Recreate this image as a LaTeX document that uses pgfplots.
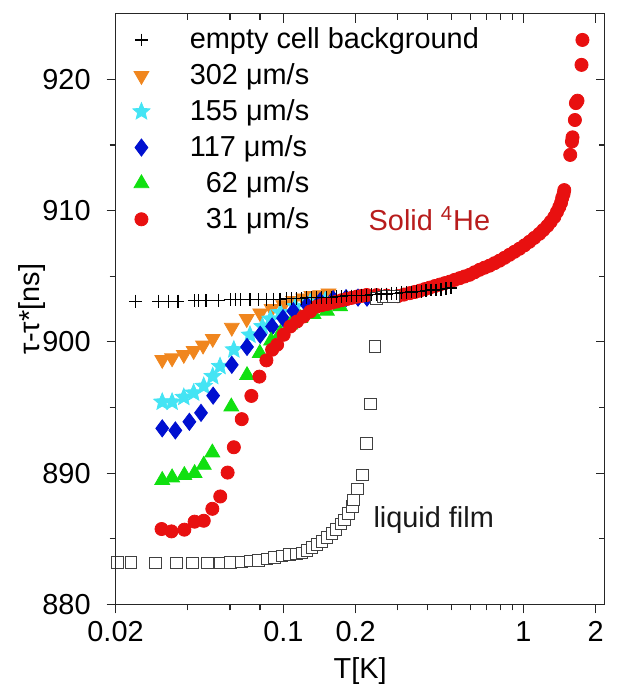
\documentclass[border=0pt]{standalone}
\usepackage{fontspec}
\setmainfont{Liberation Sans}
\usepackage{pgfplots}
\pgfplotsset{compat=1.18}
\usetikzlibrary{plotmarks}

\definecolor{cOrange}{HTML}{F0861E}
\definecolor{cCyan}{HTML}{44E4F4}
\definecolor{cBlue}{HTML}{0010D0}
\definecolor{cGreen}{HTML}{10E010}
\definecolor{cRed}{HTML}{E81010}
\definecolor{cText}{HTML}{B81C1C}

% filled five-pointed star
\pgfdeclareplotmark{fstar}{%
  \pgfpathmoveto{\pgfpointpolar{90}{\pgfplotmarksize}}%
  \pgfpathlineto{\pgfpointpolar{126}{0.45\pgfplotmarksize}}%
  \pgfpathlineto{\pgfpointpolar{162}{\pgfplotmarksize}}%
  \pgfpathlineto{\pgfpointpolar{198}{0.45\pgfplotmarksize}}%
  \pgfpathlineto{\pgfpointpolar{234}{\pgfplotmarksize}}%
  \pgfpathlineto{\pgfpointpolar{270}{0.45\pgfplotmarksize}}%
  \pgfpathlineto{\pgfpointpolar{306}{\pgfplotmarksize}}%
  \pgfpathlineto{\pgfpointpolar{342}{0.45\pgfplotmarksize}}%
  \pgfpathlineto{\pgfpointpolar{18}{\pgfplotmarksize}}%
  \pgfpathlineto{\pgfpointpolar{54}{0.45\pgfplotmarksize}}%
  \pgfpathclose
  \pgfusepathqfillstroke}

\pgfplotstableread{
T y
0.0242 903.1
0.0303 903.1
0.0333 903.1
0.0364 903.1
0.0427 903.15
0.0444 903.15
0.0476 903.15
0.0537 903.15
0.0601 903.2
0.0630 903.2
0.0661 903.2
0.0727 903.2
0.0787 903.2
0.0852 903.25
0.0909 903.25
0.0969 903.25
0.1032 903.3
0.1082 903.3
0.1135 903.3
0.1191 903.3
0.1249 903.35
0.1310 903.35
0.1374 903.35
0.1441 903.4
0.1512 903.4
0.1586 903.4
0.1663 903.45
0.1745 903.45
0.1830 903.5
0.1920 903.5
0.2014 903.5
0.2112 903.55
0.2216 903.55
0.2324 903.6
0.2438 903.6
0.2557 903.65
0.2683 903.65
0.2814 903.7
0.2952 903.7
0.3096 903.75
0.3248 903.75
0.3407 903.8
0.3574 903.85
0.3749 903.85
0.3932 903.9
0.4125 903.95
0.4327 903.95
0.4539 904.0
0.4761 904.05
0.4994 904.1
}\vEmptyCell

\pgfplotstableread{
T y
0.0313 898.64
0.0344 898.76
0.0385 899.02
0.0423 899.32
0.0463 899.73
0.0508 900.24
0.0610 901.09
0.0704 901.75
0.0801 902.18
0.0894 902.51
0.1000 902.81
0.1100 903.12
0.1211 903.32
0.1310 903.50
0.1424 903.57
0.1542 903.70
}\vOrange

\pgfplotstableread{
T y
0.0313 895.42
0.0344 895.42
0.0385 895.78
0.0423 896.11
0.0466 896.62
0.0508 897.37
0.0545 898.13
0.0622 899.40
0.0726 900.52
0.0818 901.17
0.0883 901.74
0.0972 902.23
0.1121 902.69
0.1294 902.99
0.1494 903.14
}\vCyan

\pgfplotstableread{
T y
0.0313 893.41
0.0355 893.25
0.0406 893.91
0.0454 894.59
0.0510 895.90
0.0610 898.25
0.0706 899.61
0.0801 900.54
0.0898 901.17
0.0997 901.80
0.1100 902.34
0.1254 902.81
0.1424 903.10
0.1612 903.25
0.1825 903.33
0.2047 903.37
0.2231 903.37
}\vBlue

\pgfplotstableread{
T y
0.0313 889.46
0.0344 889.66
0.0387 889.84
0.0427 889.99
0.0466 890.62
0.0506 891.56
0.0607 895.06
0.0706 897.45
0.0798 899.14
0.0889 900.08
0.0972 900.66
0.1069 901.30
0.1176 901.80
0.1336 902.10
0.1518 902.36
0.1724 902.69
}\vGreen

\pgfplotstableread{
T y
0.0311 885.74
0.0342 885.56
0.0387 885.69
0.0427 886.30
0.0466 886.37
0.0506 887.28
0.0546 888.22
0.0586 890.04
0.0622 891.97
0.0671 894.11
0.0736 895.88
0.0795 897.35
0.0850 898.59
0.0898 899.40
0.0942 899.78
0.1003 900.54
0.1069 901.17
0.1140 901.55
0.1214 901.93
0.1294 902.31
0.1379 902.69
0.1448 902.80
0.1518 902.88
0.1592 902.98
0.1670 903.07
0.1750 903.17
0.1837 903.26
0.1925 903.35
0.2021 903.44
0.2120 903.50
0.2225 903.57
0.2447 903.56
0.2694 903.52
0.3000 903.48
0.3180 903.60
0.3365 903.71
0.3530 903.80
0.3703 903.90
0.3885 904.02
0.4074 904.13
0.4275 904.25
0.4482 904.36
0.4700 904.47
0.4932 904.58
0.5170 904.72
0.5426 904.85
0.5690 904.98
0.5970 905.11
0.6260 905.30
0.6569 905.49
0.6890 905.65
0.7227 905.80
0.7580 905.99
0.7951 906.18
0.8340 906.40
0.8748 906.63
0.9175 906.86
0.9625 907.09
1.010 907.35
1.059 907.62
1.110 907.92
1.165 908.23
1.210 908.52
1.258 908.83
1.300 909.15
1.345 909.51
1.380 909.90
1.411 910.27
1.435 910.60
1.451 910.96
1.470 911.26
1.480 911.56
1.567 914.24
1.593 915.26
1.602 915.58
1.639 916.90
1.655 918.19
1.680 918.37
1.746 921.10
1.762 923.00
}\vRed

\pgfplotstableread{
T y
0.0204 883.20
0.0232 883.20
0.0294 883.15
0.0359 883.15
0.0418 883.15
0.0482 883.15
0.0548 883.15
0.0603 883.21
0.0670 883.24
0.0730 883.29
0.0790 883.34
0.0856 883.44
0.0920 883.59
0.0988 883.70
0.1062 883.79
0.1132 883.85
0.1196 883.92
0.1254 884.10
0.1315 884.35
0.1379 884.55
0.1447 884.78
0.1518 885.11
0.1592 885.41
0.1660 885.71
0.1735 886.12
0.1796 886.43
0.1866 886.93
0.1940 887.44
0.1957 887.94
0.2042 888.78
0.2142 889.84
0.2225 892.27
0.2311 895.27
0.2408 899.65
0.2447 903.32
0.2607 903.40
0.2694 903.44
0.2869 903.44
}\vFilm

\newcommand{\fs}{\fontsize{14.5}{17}\selectfont}

\begin{document}
\begin{tikzpicture}
\begin{axis}[
  name=main,
  scale only axis, width=245.5pt, height=296.5pt,
  xmode=log, xmin=0.02, xmax=2.18, ymin=880, ymax=925,
  xtick={0.02,0.1,0.2,1,2},
  minor xtick={0.04,0.06,0.08,0.3,0.4,0.5,0.6,0.7,0.8,0.9},
  ytick={880,890,...,920}, minor ytick={885,895,905,915},
  major tick length=4.5pt, minor tick length=3pt,
  every tick/.append style={black!85, line width=0.6pt},
  axis line style={black!85, line width=0.7pt},
  tick align=outside, xtick pos=bottom, ytick pos=left,
  xticklabels={0.02,0.1,0.2,1,2},
  tick label style={font=\fs},
  xticklabel style={yshift=-0.5pt},
  yticklabel style={xshift=-4.5pt},
  /pgf/number format/assume math mode=true,
  xlabel={T[K]}, ylabel={τ-τ*[ns]},
  label style={font=\fs},
  xlabel style={yshift=-1pt},
  ylabel style={yshift=-8.5pt},
  legend style={at={(0,0.99)}, xshift=3.5pt, anchor=north west, draw=none, fill=none,
    font=\fs, row sep=2pt},
  legend cell align=left,
  lg/.style={legend image code/.code={\path (0pt,0pt) (28pt,0pt);
    \draw[##1] plot coordinates {(6pt,0pt)};}},
]
\addplot[only marks, mark=+, mark size=3.2pt, black, line width=0.6pt, lg] table[x=T,y=y] {\vEmptyCell};
\addlegendentry{empty cell background}
\addplot[only marks, mark=triangle*, mark size=4.3pt, cOrange, mark options={rotate=180}, lg] table[x=T,y=y] {\vOrange};
\addlegendentry{302 μm/s}
\addplot[only marks, mark=fstar, mark size=4.5pt, cCyan, lg] table[x=T,y=y] {\vCyan};
\addlegendentry{155 μm/s}
\addplot[only marks, mark=diamond*, mark size=4.3pt, cBlue, lg] table[x=T,y=y] {\vBlue};
\addlegendentry{117 μm/s}
\addplot[only marks, mark=triangle*, mark size=4.3pt, cGreen, lg] table[x=T,y=y] {\vGreen};
\addlegendentry{\phantom{1}62 μm/s}
\addplot[only marks, mark=*, mark size=3.3pt, cRed, lg] table[x=T,y=y] {\vRed};
\addlegendentry{\phantom{1}31 μm/s}
\addplot[only marks, mark=square*, mark size=2.9pt, mark options={draw=black!75, fill=white, line width=0.5pt}, forget plot] table[x=T,y=y] {\vFilm};
\addplot[only marks, mark=+, mark size=3.2pt, black, line width=0.6pt, forget plot] table[x=T,y=y] {\vEmptyCell};
\node[anchor=west, text=cText, font=\fs] at (axis cs:0.212,909.4) {Solid \textsuperscript{4}He};
\node[anchor=west, text=black!90, font=\fs] at (axis cs:0.222,886.4) {liquid film};
\end{axis}
\begin{axis}[
  scale only axis, width=245.5pt, height=296.5pt,
  xmode=log, xmin=0.02, xmax=2.18, ymin=880, ymax=925,
  xtick={0.02,0.1,0.2,1,2},
  minor xtick={0.04,0.06,0.08,0.3,0.4,0.5,0.6,0.7,0.8,0.9},
  ytick={880,890,...,920}, minor ytick={885,895,905,915},
  major tick length=4.5pt, minor tick length=3pt,
  every tick/.append style={black!85, line width=0.6pt},
  axis line style={black!85, line width=0.7pt},
  tick align=inside, xtick pos=top, ytick pos=right,
  xticklabels={}, yticklabels={},
]
\end{axis}
\path ([shift={(-58pt,-48pt)}]main.south west) ([shift={(2pt,5.5pt)}]main.north east);
\end{tikzpicture}
\end{document}
